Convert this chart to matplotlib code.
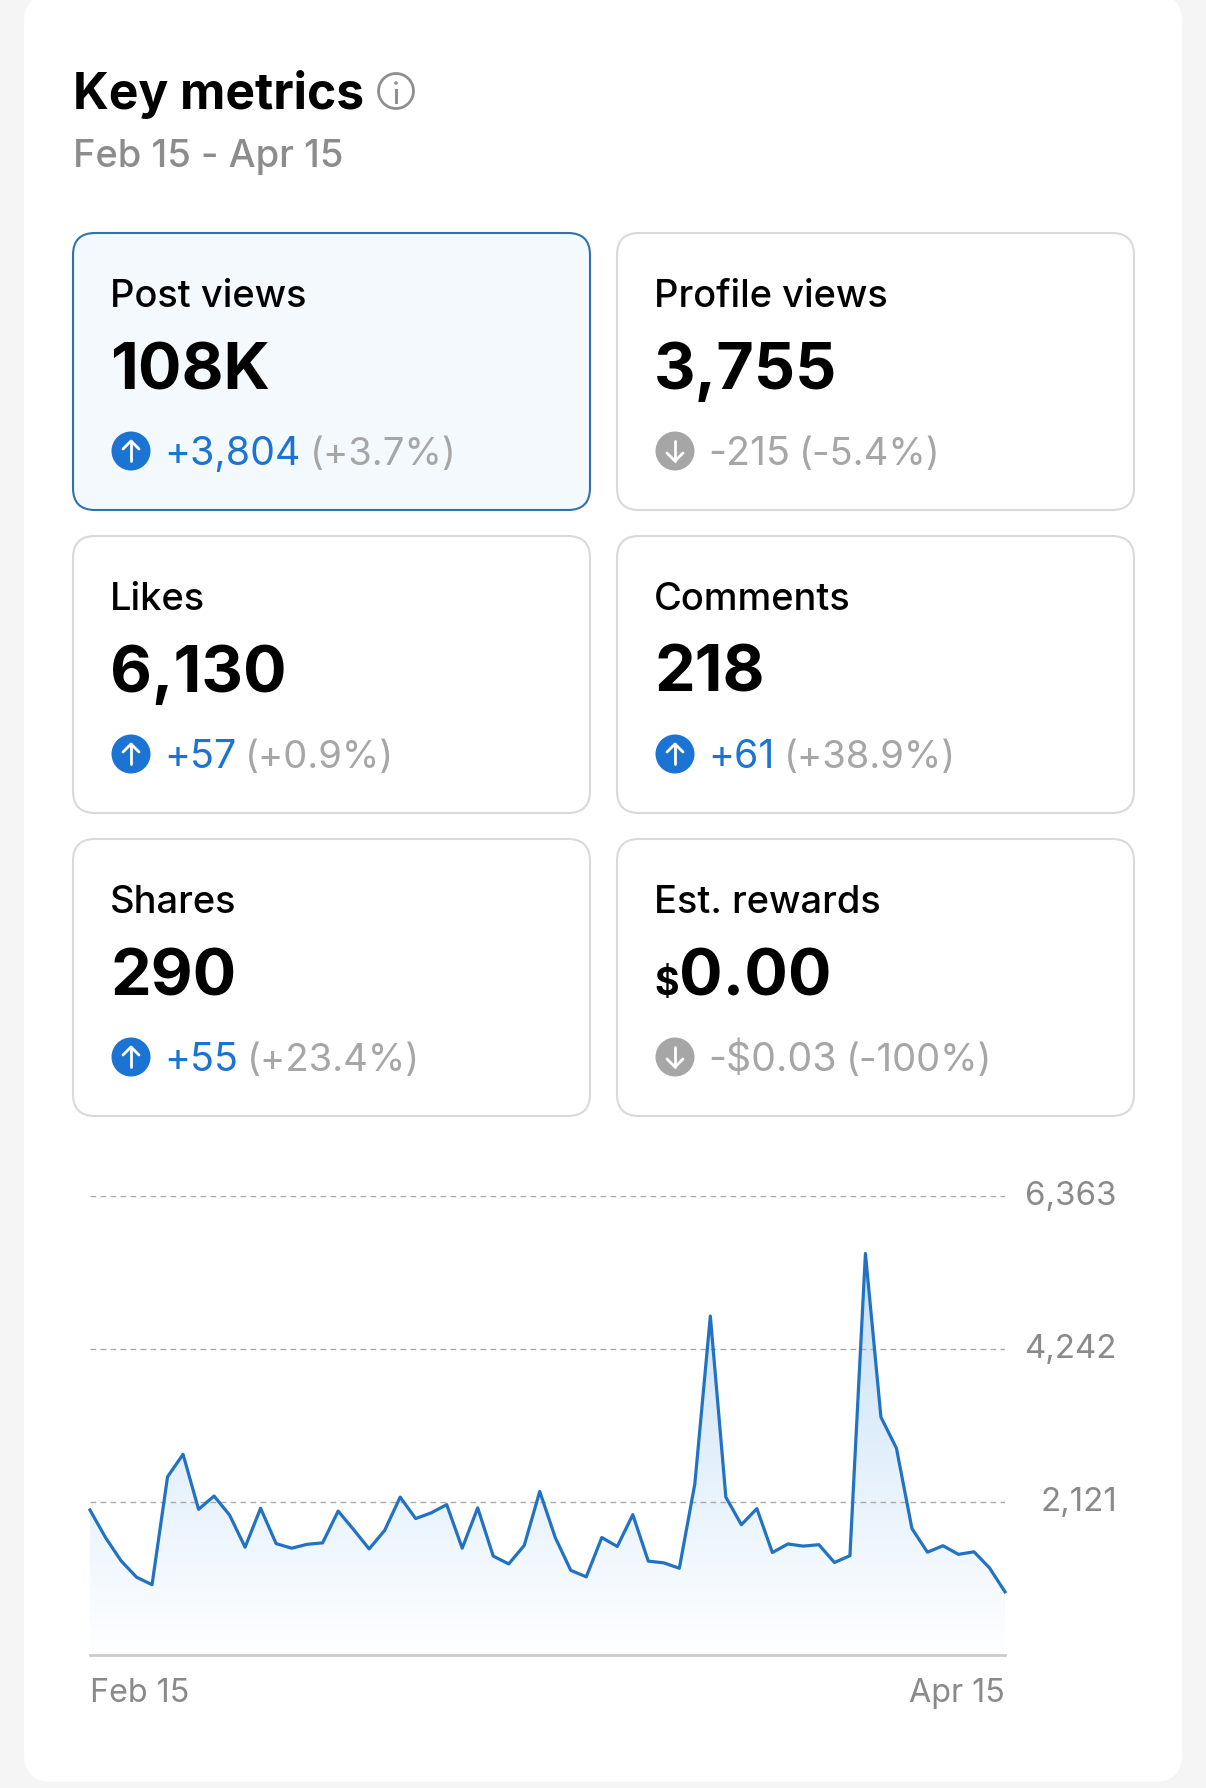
import numpy as np
import matplotlib
matplotlib.use('Agg')
import matplotlib.pyplot as plt
from matplotlib.patches import FancyBboxPatch, Circle, Polygon
from matplotlib.transforms import ScaledTranslation

plt.rcParams['font.family'] = ['Inter', 'DejaVu Sans']

# Cards
card_labels = ['Post views', 'Profile views', 'Likes', 'Comments', 'Shares', 'Est. rewards']
card_values = ['108K', '3,755', '6,130', '218', '290', '0.00']
card_prefix = ['', '', '', '', '', '$']
card_deltas = ['+3,804', '-215', '+57', '+61', '+55', '-$0.03']
card_pcts = ['(+3.7%)', '(-5.4%)', '(+0.9%)', '(+38.9%)', '(+23.4%)', '(-100%)']
card_up = [True, False, True, True, True, False]

# Chart
views = [2015, 1634, 1312, 1084, 980, 2476, 2788, 2025, 2209, 1946,
         1500, 2040, 1550, 1486, 1540, 1560, 2001, 1743, 1476, 1733,
         2194, 1897, 1976, 2090, 1486, 2045, 1377, 1268, 1525, 2273,
         1634, 1179, 1089, 1634, 1510, 1951, 1307, 1283, 1208, 2377,
         4704, 2194, 1812, 2035, 1426, 1545, 1515, 1535, 1288, 1382,
         5571, 3303, 2872, 1758, 1431, 1520, 1401, 1436, 1213, 881]
y_ticks = [2121, 4242, 6363]
y_labels = ['2,121', '4,242', '6,363']
x_labels = ['Feb 15', 'Apr 15']

W, H = 1206, 1788
BLUE = '#1b74d3'
GRAY = '#a6a6a6'

fig = plt.figure(figsize=(W / 100, H / 100), dpi=100, facecolor='#f5f5f5')
ui = fig.add_axes([0, 0, 1, 1])
ui.set_xlim(0, W)
ui.set_ylim(H, 0)
ui.axis('off')

# white panel
ui.add_patch(FancyBboxPatch((24, -6), 1158, 1788, boxstyle='round,pad=0,rounding_size=28',
                            fc='white', ec='none'))

ui.text(73, 109, 'Key metrics', fontsize=35.8, fontweight='bold', color='black', va='baseline')
ui.text(73, 167, 'Feb 15 - Apr 15', fontsize=27.4, fontweight='medium', color='#8c8c8c', va='baseline')

# info icon
ui.add_patch(Circle((396, 91), 17.5, fc='none', ec='#8f8f8f', lw=2))
ui.plot([396, 396], [90, 102], color='#8f8f8f', lw=2.2)
ui.add_patch(Circle((396, 83), 1.8, fc='#8f8f8f', ec='none'))

card_x = [73, 617]
card_y = [233, 536, 839]
card_w, card_h = 517, 277

renderer = fig.canvas.get_renderer()

for i, label in enumerate(card_labels):
    x0 = card_x[i % 2]
    y0 = card_y[i // 2]
    selected = i == 0
    ui.add_patch(FancyBboxPatch((x0, y0), card_w, card_h, boxstyle='round,pad=0,rounding_size=22',
                                fc='#f4f9fe' if selected else 'white',
                                ec='#2f73ad' if selected else '#dadada',
                                lw=1.5))
    tx = x0 + 37
    ui.text(tx, y0 + 74, label, fontsize=27.4, fontweight='medium', color='black', va='baseline')

    vx = tx
    if card_prefix[i]:
        t = ui.text(vx, y0 + 156, card_prefix[i], fontsize=27, fontweight='bold', color='black', va='baseline')
        vx = t.get_window_extent(renderer).x1 + 1
    ui.text(vx, y0 + 156, card_values[i], fontsize=46.5, fontweight='bold', color='black', va='baseline')

    # icon with arrow
    cx, cy = tx + 21, y0 + 218
    icon_color = BLUE if card_up[i] else GRAY
    ui.add_patch(Circle((cx, cy), 19.5, fc=icon_color, ec='none'))
    sign = -1 if card_up[i] else 1
    ui.plot([cx, cx], [cy - sign * 10, cy + sign * 10], color='white', lw=2, solid_capstyle='round')
    ui.plot([cx - 8, cx, cx + 8], [cy + sign * 2, cy + sign * 10, cy + sign * 2], color='white', lw=2,
            solid_capstyle='round', solid_joinstyle='round')

    dx = tx + 54
    t = ui.text(dx, y0 + 232, card_deltas[i], fontsize=28.3, color=BLUE if card_up[i] else GRAY, va='baseline')
    ui.text(t.get_window_extent(renderer).x1 + 9, y0 + 232, card_pcts[i], fontsize=27.5, color=GRAY, va='baseline')

# chart
left, right, top, bottom = 90, 1005, 1196.4, 1655.4
ax = fig.add_axes([left / W, 1 - bottom / H, (right - left) / W, (bottom - top) / H])
ax.patch.set_alpha(0)

days = np.arange(len(views))
grad = np.ones((256, 1, 4))
grad[:, 0, 0] = np.linspace(190, 255, 256) / 255
grad[:, 0, 1] = np.linspace(220, 255, 256) / 255
grad[:, 0, 2] = np.linspace(246, 255, 256) / 255
im = ax.imshow(grad, extent=[0, len(views) - 1, 0, y_ticks[-1]], origin='upper', aspect='auto', zorder=1)
clip = Polygon(list(zip(days, views)) + [(days[-1], 0), (0, 0)], closed=True, transform=ax.transData,
               fc='none', ec='none')
ax.add_patch(clip)
im.set_clip_path(clip)

ax.set_xlim(0, len(views) - 1)
ax.set_ylim(0, y_ticks[-1])
ax.plot(days, views, color='#2272c3', lw=2.3, solid_joinstyle='round', zorder=3, clip_on=False)

for s in ['top', 'left', 'right']:
    ax.spines[s].set_visible(False)
ax.spines['bottom'].set_color('#cccccc')
ax.spines['bottom'].set_linewidth(2)

ax.yaxis.tick_right()
ax.set_yticks(y_ticks)
ax.set_yticklabels(y_labels, fontsize=23.8, color='#8a8a8a', ha='right')
ax.tick_params(axis='y', length=0, pad=80.5)
ax.grid(axis='y', color='#aaaaaa', lw=1, linestyle=(0, (4.1, 3.1)), zorder=2)
ax.set_axisbelow(False)

# labels sit a little above their gridlines
up = ScaledTranslation(0, 3 / 100, fig.dpi_scale_trans)
for lab in ax.get_yticklabels():
    lab.set_transform(lab.get_transform() + up)

ax.set_xticks([0, len(views) - 1])
ax.set_xticklabels(x_labels, fontsize=23.2, color='#8a8a8a')
ax.tick_params(axis='x', length=0, pad=16)
ax.get_xticklabels()[0].set_ha('left')
ax.get_xticklabels()[1].set_ha('right')

fig.savefig('out.png', dpi=100, facecolor=fig.get_facecolor())
